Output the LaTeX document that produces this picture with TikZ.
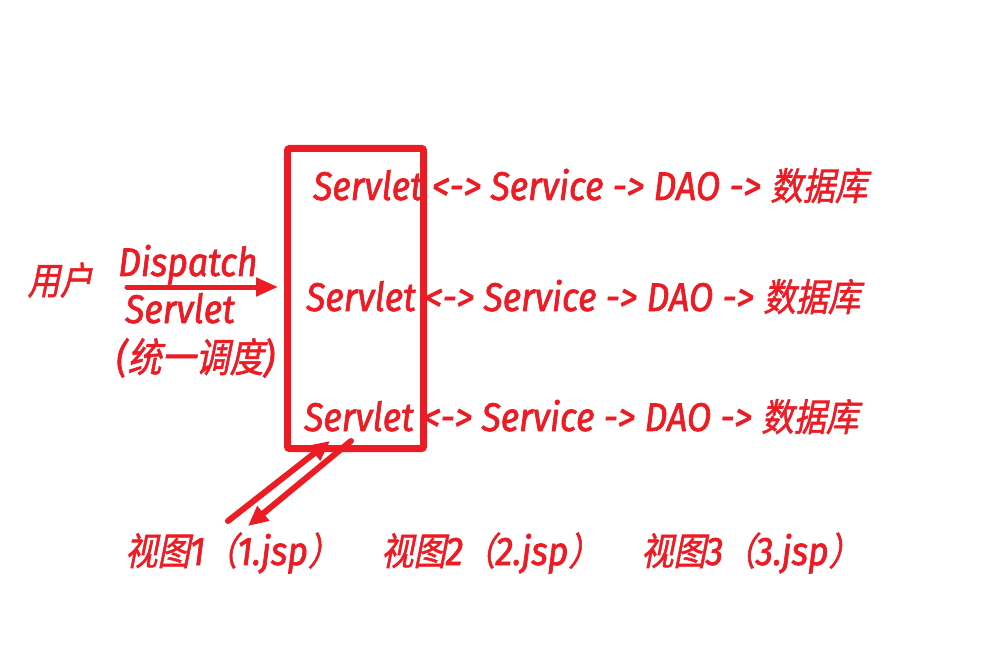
\documentclass[tikz,border=0pt]{standalone}
\usepackage{fontspec}
\usetikzlibrary{arrows.meta}
\newfontfamily\lat{Fira Sans}[FakeStretch=0.89,FakeBold=1.6]
\newfontfamily\cjk{Noto Sans CJK SC}[FakeSlant=0.2,FakeStretch=0.85,FakeBold=1.4]
\definecolor{rd}{HTML}{ED1C24}
\tikzset{
  txt/.style={text=rd,inner sep=0pt,font=\lat\itshape\fontsize{40}{44}\selectfont},
  zh/.style={text=rd,inner sep=0pt,font=\cjk\fontsize{38}{42}\selectfont},
  frame/.style={draw=rd,line width=7pt,rounded corners=2pt,outer sep=0pt,inner sep=0pt},
  arr/.style={draw=rd,line width=5pt,line cap=round,-{Triangle[length=22pt,width=18pt]}},
  darr/.style={draw=rd,line width=6pt,line cap=round,-{Triangle[length=20pt,width=18pt]}}
}
\newcommand{\zhtxt}[1]{{\cjk\fontsize{38}{42}\selectfont #1}}
\newcommand{\zhbig}[1]{{\cjk\fontsize{40}{44}\selectfont #1}}
\begin{document}
\begin{tikzpicture}[x=1pt,y=-1pt]
\useasboundingbox (0,0) rectangle (996,647);
% frame
\node[frame,minimum width=136pt,minimum height=300pt,anchor=north west] (box) at (287.5,148.5) {};
% rows
\node[txt,anchor=base west] (r1) at (313,200) {Servlet <-> Service -> DAO -> \zhtxt{数据库}};
\node[txt,anchor=base west] (r2) at (306,311) {Servlet <-> Service -> DAO -> \zhtxt{数据库}};
\node[txt,anchor=base west] (r3) at (304,431) {Servlet <-> Service -> DAO -> \zhtxt{数据库}};
% left
\node[zh] (user) at (60,280) {用户};
\node[txt,anchor=base west] (disp) at (118,276) {Dispatch};
\node[txt,anchor=base west] (serv) at (125,323) {Servlet};
\node[txt,anchor=base west] (tydd) at (116,372) {(\zhbig{统一调度})};
\coordinate (a1s) at (127,287);
\coordinate (a1e) at (278,287);
\draw[arr] (a1s) -- (a1e);
% views
\node[txt,anchor=base west] (v1) at (125,565) {\zhtxt{视图}1\zhtxt{（}1.jsp\zhtxt{）}};
\node[txt,anchor=base west] (v2) at (381,565) {\zhtxt{视图}2\zhtxt{（}2.jsp\zhtxt{）}};
\node[txt,anchor=base west] (v3) at (641,565) {\zhtxt{视图}3\zhtxt{（}3.jsp\zhtxt{）}};
% diagonal arrows
\coordinate (d1s) at (228,521);
\coordinate (d1e) at (330,441);
\coordinate (d2s) at (351,441);
\coordinate (d2e) at (248,526);
\draw[darr] (d1s) -- (d1e);
\draw[darr] (d2s) -- (d2e);
\end{tikzpicture}
\end{document}
